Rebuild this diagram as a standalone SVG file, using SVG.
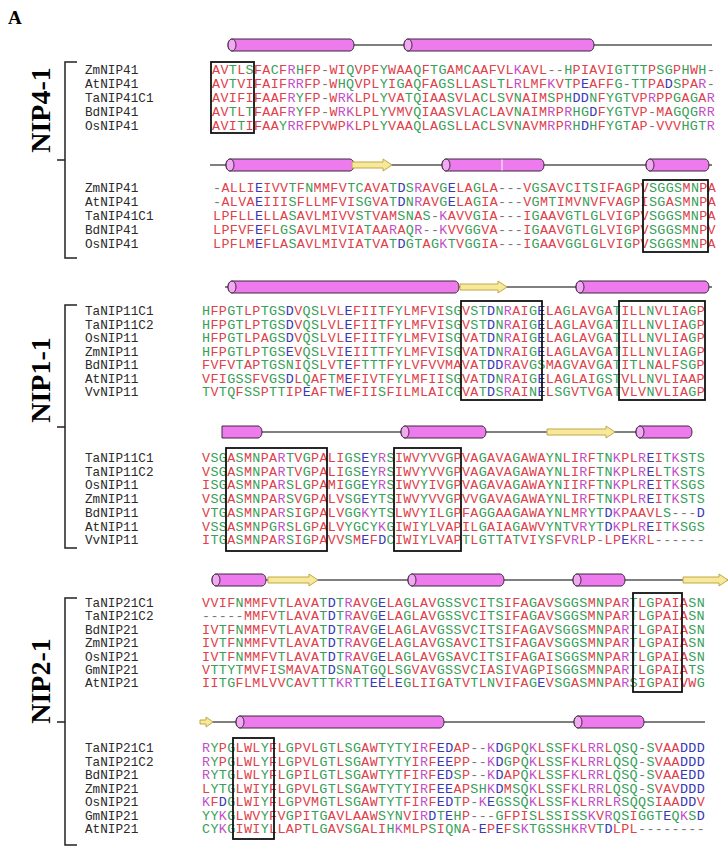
<svg xmlns="http://www.w3.org/2000/svg" width="728" height="860" viewBox="0 0 728 860">
<style>
.nm{font-family:"Liberation Mono",monospace;font-size:12.7px;fill:#2a2a2a}
.sq{font-family:"Liberation Mono",monospace;font-size:13.4px;letter-spacing:0.34px;fill:#e0404a}
.g{fill:#36a058}.b{fill:#3838b8}.m{fill:#c24fc9}.k{fill:#777}
.box{fill:none;stroke:#111;stroke-width:1.8}
.br{fill:none;stroke:#222;stroke-width:1.5}
.lab{font-family:"Liberation Serif",serif;font-weight:bold;font-size:28px;fill:#000}
.ln{stroke:#555;stroke-width:1.3}
.hx{fill:#ee7bee;stroke:#3a2a3a;stroke-width:1}
.hc{fill:#f3a8f3;stroke:#3a2a3a;stroke-width:1}
.st{fill:#f6e99a;stroke:#c4a64a;stroke-width:1}
</style>
<rect width="728" height="860" fill="#fff"/>
<text x="8" y="24" font-family="Liberation Serif, serif" font-weight="bold" font-size="19">A</text>

<g id="track1">
<line class="ln" x1="228" y1="45" x2="712" y2="45"/>
<path class="hx" d="M232 39H350a4 6 0 0 1 0 12H232a4 6 0 0 1 0-12z"/><ellipse class="hc" cx="232" cy="45" rx="4" ry="6"/>
<path class="hx" d="M408 39H590a4 6 0 0 1 0 12H408a4 6 0 0 1 0-12z"/><ellipse class="hc" cx="408" cy="45" rx="4" ry="6"/>
</g>
<g id="track2">
<line class="ln" x1="210" y1="165" x2="712" y2="165"/>
<path class="hx" d="M230 159H350a4 6 0 0 1 0 12H230a4 6 0 0 1 0-12z"/><ellipse class="hc" cx="230" cy="165" rx="4" ry="6"/>
<path class="st" d="M352 162H383V159L392 165L383 171V168H352z"/>
<path class="hx" d="M446 159H540a4 6 0 0 1 0 12H446a4 6 0 0 1 0-12z"/><ellipse class="hc" cx="446" cy="165" rx="4" ry="6"/>
<line x1="502" y1="159.5" x2="502" y2="170.5" stroke="#fff" stroke-width="1"/>
<path class="hx" d="M650 159H705a4 6 0 0 1 0 12H650a4 6 0 0 1 0-12z"/><ellipse class="hc" cx="650" cy="165" rx="4" ry="6"/>
</g>
<g id="track3">
<line class="ln" x1="225" y1="287" x2="712" y2="287"/>
<path class="hx" d="M232 281H455a4 6 0 0 1 0 12H232a4 6 0 0 1 0-12z"/><ellipse class="hc" cx="232" cy="287" rx="4" ry="6"/>
<path class="st" d="M460 284H498V281L507 287L498 293V290H460z"/>
<path class="hx" d="M580 281H705a4 6 0 0 1 0 12H580a4 6 0 0 1 0-12z"/><ellipse class="hc" cx="580" cy="287" rx="4" ry="6"/>
</g>
<g id="track4">
<line class="ln" x1="222" y1="432" x2="692" y2="432"/>
<path class="hx" d="M222 426H258a4 6 0 0 1 0 12H222z"/>
<path class="hx" d="M405 426H482a4 6 0 0 1 0 12H405a4 6 0 0 1 0-12z"/><ellipse class="hc" cx="405" cy="432" rx="4" ry="6"/>
<path class="st" d="M547 429H606V426L615 432L606 438V435H547z"/>
<path class="hx" d="M640 426H688a4 6 0 0 1 0 12H640a4 6 0 0 1 0-12z"/><ellipse class="hc" cx="640" cy="432" rx="4" ry="6"/>
</g>
<g id="track5">
<line class="ln" x1="212" y1="580" x2="728" y2="580"/>
<path class="hx" d="M216 574H262a4 6 0 0 1 0 12H216a4 6 0 0 1 0-12z"/><ellipse class="hc" cx="216" cy="580" rx="4" ry="6"/>
<path class="st" d="M268 577H309V574L318 580L309 586V583H268z"/>
<path class="hx" d="M412 574H500a4 6 0 0 1 0 12H412a4 6 0 0 1 0-12z"/><ellipse class="hc" cx="412" cy="580" rx="4" ry="6"/>
<path class="hx" d="M577 574H621a4 6 0 0 1 0 12H577a4 6 0 0 1 0-12z"/><ellipse class="hc" cx="577" cy="580" rx="4" ry="6"/>
<path class="st" d="M683 577H719V574L728 580L719 586V583H683z"/>
</g>
<g id="track6">
<line class="ln" x1="205" y1="722" x2="705" y2="722"/>
<path class="st" d="M200 720H206V717L213 722L206 727V724H200z"/>
<path class="hx" d="M240 716H440a4 6 0 0 1 0 12H240a4 6 0 0 1 0-12z"/><ellipse class="hc" cx="240" cy="722" rx="4" ry="6"/>
<path class="hx" d="M578 716H640a4 6 0 0 1 0 12H578a4 6 0 0 1 0-12z"/><ellipse class="hc" cx="578" cy="722" rx="4" ry="6"/>
</g>

<g id="NIP4-1">
<path class="br" d="M77 62H65V258H77M65 160H57"/>
<text class="lab" transform="translate(50 110) rotate(-90)" text-anchor="middle">NIP4-1</text>
<text class="nm" x="85" y="74">ZmNIP41</text>
<text class="nm" x="85" y="88">AtNIP41</text>
<text class="nm" x="85" y="102">TaNIP41C1</text>
<text class="nm" x="85" y="116">BdNIP41</text>
<text class="nm" x="85" y="130">OsNIP41</text>
<text class="sq" x="212" y="74">AV<tspan class="g">T</tspan>L<tspan class="g">S</tspan>FA<tspan class="g">C</tspan>F<tspan class="m">R</tspan><tspan class="g">H</tspan>FP<tspan class="k">-</tspan>WI<tspan class="g">Q</tspan>VPF<tspan class="g">Y</tspan>WAA<tspan class="g">Q</tspan>F<tspan class="g">TG</tspan>AM<tspan class="g">C</tspan>AAFVL<tspan class="m">K</tspan>AVL<tspan class="k">--</tspan><tspan class="g">H</tspan>PIAVI<tspan class="g">GTTT</tspan>P<tspan class="g">SG</tspan>P<tspan class="g">H</tspan>W<tspan class="g">H</tspan><tspan class="k">-</tspan></text>
<text class="sq" x="212" y="88">AV<tspan class="g">T</tspan>VIFAIF<tspan class="m">RR</tspan>FP<tspan class="k">-</tspan>W<tspan class="g">HQ</tspan>VPL<tspan class="g">Y</tspan>I<tspan class="g">G</tspan>A<tspan class="g">Q</tspan>FA<tspan class="g">GS</tspan>LLA<tspan class="g">S</tspan>L<tspan class="g">T</tspan>L<tspan class="m">R</tspan>LMF<tspan class="m">K</tspan>V<tspan class="g">T</tspan>P<tspan class="b">E</tspan>AFF<tspan class="g">G</tspan><tspan class="k">-</tspan><tspan class="g">TT</tspan>PA<tspan class="b">D</tspan><tspan class="g">S</tspan>PA<tspan class="m">R</tspan><tspan class="k">-</tspan></text>
<text class="sq" x="212" y="102">AVIFIFAAF<tspan class="m">R</tspan><tspan class="g">Y</tspan>FP<tspan class="k">-</tspan>W<tspan class="m">RK</tspan>LPL<tspan class="g">Y</tspan>VA<tspan class="g">TQ</tspan>IAA<tspan class="g">S</tspan>VLA<tspan class="g">C</tspan>L<tspan class="g">S</tspan>V<tspan class="g">N</tspan>AIM<tspan class="g">S</tspan>P<tspan class="g">H</tspan><tspan class="b">DD</tspan><tspan class="g">N</tspan>F<tspan class="g">YGT</tspan>VP<tspan class="m">R</tspan>PP<tspan class="g">G</tspan>A<tspan class="g">G</tspan>A<tspan class="m">R</tspan></text>
<text class="sq" x="212" y="116">AV<tspan class="g">T</tspan>L<tspan class="g">T</tspan>FAAF<tspan class="m">R</tspan><tspan class="g">Y</tspan>FP<tspan class="k">-</tspan>W<tspan class="m">RK</tspan>LPL<tspan class="g">Y</tspan>VMV<tspan class="g">Q</tspan>IAA<tspan class="g">S</tspan>VLA<tspan class="g">C</tspan>LAV<tspan class="g">N</tspan>AIM<tspan class="m">R</tspan>P<tspan class="m">R</tspan><tspan class="g">HG</tspan><tspan class="b">D</tspan>F<tspan class="g">YGT</tspan>VP<tspan class="k">-</tspan>MA<tspan class="g">GQG</tspan><tspan class="m">RR</tspan></text>
<text class="sq" x="212" y="130">AVI<tspan class="g">T</tspan>IFAA<tspan class="g">Y</tspan><tspan class="m">RR</tspan>FPVWP<tspan class="m">K</tspan>LPL<tspan class="g">Y</tspan>VAA<tspan class="g">Q</tspan>LA<tspan class="g">GS</tspan>LLA<tspan class="g">C</tspan>L<tspan class="g">S</tspan>V<tspan class="g">N</tspan>AVM<tspan class="m">R</tspan>P<tspan class="m">R</tspan><tspan class="g">H</tspan><tspan class="b">D</tspan><tspan class="g">H</tspan>F<tspan class="g">YGT</tspan>AP<tspan class="k">-</tspan>VVV<tspan class="g">HGT</tspan><tspan class="m">R</tspan></text>
<text class="nm" x="85" y="192">ZmNIP41</text>
<text class="nm" x="85" y="206">AtNIP41</text>
<text class="nm" x="85" y="220">TaNIP41C1</text>
<text class="nm" x="85" y="234">BdNIP41</text>
<text class="nm" x="85" y="248">OsNIP41</text>
<text class="sq" x="213" y="192"><tspan class="k">-</tspan>ALLI<tspan class="b">E</tspan>IVV<tspan class="g">T</tspan>F<tspan class="g">N</tspan>MMFV<tspan class="g">TC</tspan>AVA<tspan class="g">T</tspan><tspan class="b">D</tspan><tspan class="g">S</tspan><tspan class="m">R</tspan>AV<tspan class="g">G</tspan><tspan class="b">E</tspan>LA<tspan class="g">G</tspan>LA<tspan class="k">---</tspan>V<tspan class="g">GS</tspan>AV<tspan class="g">C</tspan>I<tspan class="g">TS</tspan>IFA<tspan class="g">G</tspan>PV<tspan class="g">SGGS</tspan>M<tspan class="g">N</tspan>PA</text>
<text class="sq" x="213" y="206"><tspan class="k">-</tspan>ALVA<tspan class="b">E</tspan>III<tspan class="g">S</tspan>FLLMFVI<tspan class="g">SG</tspan>VA<tspan class="g">T</tspan><tspan class="b">D</tspan><tspan class="g">N</tspan><tspan class="m">R</tspan>AV<tspan class="g">G</tspan><tspan class="b">E</tspan>LA<tspan class="g">G</tspan>IA<tspan class="k">---</tspan>V<tspan class="g">G</tspan>M<tspan class="g">T</tspan>IMV<tspan class="g">N</tspan>VFVA<tspan class="g">G</tspan>PI<tspan class="g">SG</tspan>A<tspan class="g">S</tspan>M<tspan class="g">N</tspan>PA</text>
<text class="sq" x="213" y="220">LPFLL<tspan class="b">E</tspan>LLA<tspan class="g">S</tspan>AVLMIVV<tspan class="g">ST</tspan>VAM<tspan class="g">SN</tspan>A<tspan class="g">S</tspan><tspan class="k">-</tspan><tspan class="m">K</tspan>AVV<tspan class="g">G</tspan>IA<tspan class="k">---</tspan>I<tspan class="g">G</tspan>AAV<tspan class="g">GT</tspan>L<tspan class="g">G</tspan>LVI<tspan class="g">G</tspan>PV<tspan class="g">SGGS</tspan>M<tspan class="g">N</tspan>PA</text>
<text class="sq" x="213" y="234">LPFVF<tspan class="b">E</tspan>FL<tspan class="g">GS</tspan>AVLMIVIA<tspan class="g">T</tspan>AA<tspan class="m">R</tspan>A<tspan class="g">Q</tspan><tspan class="m">R</tspan><tspan class="k">--</tspan><tspan class="m">K</tspan>VV<tspan class="g">GG</tspan>VA<tspan class="k">---</tspan>I<tspan class="g">G</tspan>AAV<tspan class="g">GT</tspan>L<tspan class="g">G</tspan>LVI<tspan class="g">G</tspan>PV<tspan class="g">SGGS</tspan>M<tspan class="g">N</tspan>PV</text>
<text class="sq" x="213" y="248">LPFLM<tspan class="b">E</tspan>FLA<tspan class="g">S</tspan>AVLMIVIA<tspan class="g">T</tspan>VA<tspan class="g">T</tspan><tspan class="b">D</tspan><tspan class="g">GT</tspan>A<tspan class="g">G</tspan><tspan class="m">K</tspan><tspan class="g">T</tspan>V<tspan class="g">GG</tspan>IA<tspan class="k">---</tspan>I<tspan class="g">G</tspan>AAV<tspan class="g">GG</tspan>L<tspan class="g">G</tspan>LVI<tspan class="g">G</tspan>PV<tspan class="g">SGGS</tspan>M<tspan class="g">N</tspan>PA</text>
<rect class="box" x="211" y="62" width="43" height="71"/>
<rect class="box" x="643" y="180" width="65" height="72"/>
</g>

<g id="NIP1-1">
<path class="br" d="M77 305H65V548H77M65 427H57"/>
<text class="lab" transform="translate(50 380) rotate(-90)" text-anchor="middle">NIP1-1</text>
<text class="nm" x="85" y="315">TaNIP11C1</text>
<text class="nm" x="85" y="328.5">TaNIP11C2</text>
<text class="nm" x="85" y="342">OsNIP11</text>
<text class="nm" x="85" y="355.5">ZmNIP11</text>
<text class="nm" x="85" y="369">BdNIP11</text>
<text class="nm" x="85" y="382.5">AtNIP11</text>
<text class="nm" x="85" y="396">VvNIP11</text>
<text class="sq" x="202" y="315"><tspan class="g">H</tspan>FP<tspan class="g">GT</tspan>LP<tspan class="g">TGS</tspan><tspan class="b">D</tspan>V<tspan class="g">QS</tspan>LVL<tspan class="b">E</tspan>FII<tspan class="g">T</tspan>F<tspan class="g">Y</tspan>LMFVI<tspan class="g">SG</tspan>V<tspan class="g">ST</tspan><tspan class="b">D</tspan><tspan class="g">N</tspan><tspan class="m">R</tspan>AI<tspan class="g">G</tspan><tspan class="b">E</tspan>LA<tspan class="g">G</tspan>LAV<tspan class="g">G</tspan>A<tspan class="g">T</tspan>ILL<tspan class="g">N</tspan>VLIA<tspan class="g">G</tspan>P</text>
<text class="sq" x="202" y="328.5"><tspan class="g">H</tspan>FP<tspan class="g">GT</tspan>LP<tspan class="g">TGS</tspan><tspan class="b">D</tspan>V<tspan class="g">QS</tspan>LVL<tspan class="b">E</tspan>FII<tspan class="g">T</tspan>F<tspan class="g">Y</tspan>LMFVI<tspan class="g">SG</tspan>V<tspan class="g">ST</tspan><tspan class="b">D</tspan><tspan class="g">N</tspan><tspan class="m">R</tspan>AI<tspan class="g">G</tspan><tspan class="b">E</tspan>LA<tspan class="g">G</tspan>LAV<tspan class="g">G</tspan>A<tspan class="g">T</tspan>ILL<tspan class="g">N</tspan>VLIA<tspan class="g">G</tspan>P</text>
<text class="sq" x="202" y="342"><tspan class="g">H</tspan>FP<tspan class="g">GT</tspan>LPA<tspan class="g">GS</tspan><tspan class="b">D</tspan>V<tspan class="g">QS</tspan>LVL<tspan class="b">E</tspan>FII<tspan class="g">T</tspan>F<tspan class="g">Y</tspan>LMFVI<tspan class="g">SG</tspan>VA<tspan class="g">T</tspan><tspan class="b">D</tspan><tspan class="g">N</tspan><tspan class="m">R</tspan>AI<tspan class="g">G</tspan><tspan class="b">E</tspan>LA<tspan class="g">G</tspan>LAV<tspan class="g">G</tspan>A<tspan class="g">T</tspan>ILL<tspan class="g">N</tspan>VLIA<tspan class="g">G</tspan>P</text>
<text class="sq" x="202" y="355.5"><tspan class="g">H</tspan>FP<tspan class="g">GT</tspan>LP<tspan class="g">TGS</tspan><tspan class="b">E</tspan>V<tspan class="g">QS</tspan>LVI<tspan class="b">E</tspan>II<tspan class="g">TT</tspan>F<tspan class="g">Y</tspan>LMFVI<tspan class="g">SG</tspan>VA<tspan class="g">T</tspan><tspan class="b">D</tspan><tspan class="g">N</tspan><tspan class="m">R</tspan>AI<tspan class="g">G</tspan><tspan class="b">E</tspan>LA<tspan class="g">G</tspan>LAV<tspan class="g">G</tspan>A<tspan class="g">T</tspan>ILL<tspan class="g">N</tspan>VLIA<tspan class="g">G</tspan>P</text>
<text class="sq" x="202" y="369">FVFV<tspan class="g">T</tspan>AP<tspan class="g">TGSN</tspan>I<tspan class="g">QS</tspan>LV<tspan class="g">T</tspan><tspan class="b">E</tspan>F<tspan class="g">TTT</tspan>F<tspan class="g">Y</tspan>LVFVVMAVA<tspan class="g">T</tspan><tspan class="b">DD</tspan><tspan class="m">R</tspan>AV<tspan class="g">GS</tspan>MA<tspan class="g">G</tspan>VAV<tspan class="g">G</tspan>A<tspan class="g">T</tspan>I<tspan class="g">T</tspan>L<tspan class="g">N</tspan>ALF<tspan class="g">SG</tspan>P</text>
<text class="sq" x="202" y="382.5">VFI<tspan class="g">GSS</tspan>FV<tspan class="g">GS</tspan><tspan class="b">D</tspan>L<tspan class="g">Q</tspan>AF<tspan class="g">T</tspan>M<tspan class="b">E</tspan>FIV<tspan class="g">T</tspan>F<tspan class="g">Y</tspan>LMFII<tspan class="g">SG</tspan>VA<tspan class="g">T</tspan><tspan class="b">D</tspan><tspan class="g">N</tspan><tspan class="m">R</tspan>AI<tspan class="g">G</tspan><tspan class="b">E</tspan>LA<tspan class="g">G</tspan>LAI<tspan class="g">GST</tspan>VLL<tspan class="g">N</tspan>VLIAAP</text>
<text class="sq" x="202" y="396"><tspan class="g">T</tspan>V<tspan class="g">TQ</tspan>F<tspan class="g">SS</tspan>P<tspan class="g">TT</tspan>IP<tspan class="b">E</tspan>AF<tspan class="g">T</tspan>W<tspan class="b">E</tspan>FII<tspan class="g">S</tspan>FILMLAI<tspan class="g">CG</tspan>VA<tspan class="g">T</tspan><tspan class="b">D</tspan><tspan class="g">S</tspan><tspan class="m">R</tspan>AI<tspan class="g">N</tspan><tspan class="b">E</tspan>L<tspan class="g">SG</tspan>V<tspan class="g">T</tspan>V<tspan class="g">G</tspan>A<tspan class="g">T</tspan>VLV<tspan class="g">N</tspan>VLIA<tspan class="g">G</tspan>P</text>
<rect class="box" x="461" y="301" width="81" height="99"/>
<rect class="box" x="619" y="301" width="86" height="99"/>
<text class="nm" x="85" y="462">TaNIP11C1</text>
<text class="nm" x="85" y="475.7">TaNIP11C2</text>
<text class="nm" x="85" y="489.4">OsNIP11</text>
<text class="nm" x="85" y="503.1">ZmNIP11</text>
<text class="nm" x="85" y="516.8">BdNIP11</text>
<text class="nm" x="85" y="530.5">AtNIP11</text>
<text class="nm" x="85" y="544.2">VvNIP11</text>
<text class="sq" x="202" y="462">V<tspan class="g">SG</tspan>A<tspan class="g">S</tspan>M<tspan class="g">N</tspan>PA<tspan class="m">R</tspan><tspan class="g">T</tspan>V<tspan class="g">G</tspan>PALI<tspan class="g">GS</tspan><tspan class="b">E</tspan><tspan class="g">Y</tspan><tspan class="m">R</tspan><tspan class="g">S</tspan>IWV<tspan class="g">Y</tspan>VV<tspan class="g">G</tspan>PVA<tspan class="g">G</tspan>AVA<tspan class="g">G</tspan>AWA<tspan class="g">YN</tspan>LI<tspan class="m">R</tspan>F<tspan class="g">TN</tspan><tspan class="m">K</tspan>PL<tspan class="m">R</tspan><tspan class="b">E</tspan>I<tspan class="g">T</tspan><tspan class="m">K</tspan><tspan class="g">STS</tspan></text>
<text class="sq" x="202" y="475.7">V<tspan class="g">SG</tspan>A<tspan class="g">S</tspan>M<tspan class="g">N</tspan>PA<tspan class="m">R</tspan><tspan class="g">T</tspan>V<tspan class="g">G</tspan>PALI<tspan class="g">GS</tspan><tspan class="b">E</tspan><tspan class="g">Y</tspan><tspan class="m">R</tspan><tspan class="g">S</tspan>IWV<tspan class="g">Y</tspan>VV<tspan class="g">G</tspan>PVA<tspan class="g">G</tspan>AVA<tspan class="g">G</tspan>AWA<tspan class="g">YN</tspan>LI<tspan class="m">R</tspan>F<tspan class="g">TN</tspan><tspan class="m">K</tspan>PL<tspan class="m">R</tspan><tspan class="b">E</tspan>L<tspan class="g">T</tspan><tspan class="m">K</tspan><tspan class="g">STS</tspan></text>
<text class="sq" x="202" y="489.4">I<tspan class="g">SG</tspan>A<tspan class="g">S</tspan>M<tspan class="g">N</tspan>PA<tspan class="m">R</tspan><tspan class="g">S</tspan>L<tspan class="g">G</tspan>PAMI<tspan class="g">GG</tspan><tspan class="b">E</tspan><tspan class="g">Y</tspan><tspan class="m">R</tspan><tspan class="g">S</tspan>IWV<tspan class="g">Y</tspan>IV<tspan class="g">G</tspan>PVA<tspan class="g">G</tspan>AVA<tspan class="g">G</tspan>AWA<tspan class="g">YN</tspan>II<tspan class="m">R</tspan>F<tspan class="g">TN</tspan><tspan class="m">K</tspan>PL<tspan class="m">R</tspan><tspan class="b">E</tspan>I<tspan class="g">T</tspan><tspan class="m">K</tspan><tspan class="g">SGS</tspan></text>
<text class="sq" x="202" y="503.1">V<tspan class="g">SG</tspan>A<tspan class="g">S</tspan>M<tspan class="g">N</tspan>PA<tspan class="m">R</tspan><tspan class="g">S</tspan>V<tspan class="g">G</tspan>PALV<tspan class="g">SG</tspan><tspan class="b">E</tspan><tspan class="g">YTS</tspan>IWV<tspan class="g">Y</tspan>VV<tspan class="g">G</tspan>PVV<tspan class="g">G</tspan>AVA<tspan class="g">G</tspan>AWA<tspan class="g">YN</tspan>LI<tspan class="m">R</tspan>F<tspan class="g">TN</tspan><tspan class="m">K</tspan>PL<tspan class="m">R</tspan><tspan class="b">E</tspan>I<tspan class="g">T</tspan><tspan class="m">K</tspan><tspan class="g">STS</tspan></text>
<text class="sq" x="202" y="516.8">V<tspan class="g">TG</tspan>A<tspan class="g">S</tspan>M<tspan class="g">N</tspan>PA<tspan class="m">R</tspan><tspan class="g">S</tspan>I<tspan class="g">G</tspan>PALV<tspan class="g">GG</tspan><tspan class="m">K</tspan><tspan class="g">YTS</tspan>LWV<tspan class="g">Y</tspan>IL<tspan class="g">G</tspan>PFA<tspan class="g">GG</tspan>AA<tspan class="g">G</tspan>AWA<tspan class="g">YN</tspan>LM<tspan class="m">R</tspan><tspan class="g">YT</tspan><tspan class="b">D</tspan><tspan class="m">K</tspan>PAAVL<tspan class="g">S</tspan><tspan class="k">---</tspan><tspan class="b">D</tspan></text>
<text class="sq" x="202" y="530.5">V<tspan class="g">SS</tspan>A<tspan class="g">S</tspan>M<tspan class="g">N</tspan>P<tspan class="g">G</tspan><tspan class="m">R</tspan><tspan class="g">S</tspan>L<tspan class="g">G</tspan>PALV<tspan class="g">YGCY</tspan><tspan class="m">K</tspan><tspan class="g">G</tspan>IWI<tspan class="g">Y</tspan>LVAPIL<tspan class="g">G</tspan>AIA<tspan class="g">G</tspan>AWV<tspan class="g">YNT</tspan>V<tspan class="m">R</tspan><tspan class="g">YT</tspan><tspan class="b">D</tspan><tspan class="m">K</tspan>PL<tspan class="m">R</tspan><tspan class="b">E</tspan>I<tspan class="g">T</tspan><tspan class="m">K</tspan><tspan class="g">SGS</tspan></text>
<text class="sq" x="202" y="544.2">I<tspan class="g">TG</tspan>A<tspan class="g">S</tspan>M<tspan class="g">N</tspan>PA<tspan class="m">R</tspan><tspan class="g">S</tspan>I<tspan class="g">G</tspan>PAVV<tspan class="g">S</tspan>M<tspan class="b">E</tspan>F<tspan class="b">D</tspan><tspan class="g">C</tspan>IWI<tspan class="g">Y</tspan>LVAP<tspan class="g">T</tspan>L<tspan class="g">GTT</tspan>A<tspan class="g">T</tspan>VI<tspan class="g">YS</tspan>FV<tspan class="m">R</tspan>LP<tspan class="k">-</tspan>LP<tspan class="b">E</tspan><tspan class="m">KR</tspan>L<tspan class="k">------</tspan></text>
<rect class="box" x="226" y="448" width="101" height="103"/>
<rect class="box" x="394" y="448" width="67" height="103"/>
</g>

<g id="NIP2-1">
<path class="br" d="M77 598H65V845H77M65 722H57"/>
<text class="lab" transform="translate(50 681) rotate(-90)" text-anchor="middle">NIP2-1</text>
<text class="nm" x="85" y="607">TaNIP21C1</text>
<text class="nm" x="85" y="620.4">TaNIP21C2</text>
<text class="nm" x="85" y="633.8">BdNIP21</text>
<text class="nm" x="85" y="647.2">ZmNIP21</text>
<text class="nm" x="85" y="660.6">OsNIP21</text>
<text class="nm" x="85" y="674">GmNIP21</text>
<text class="nm" x="85" y="687.4">AtNIP21</text>
<text class="sq" x="202" y="607">VVIF<tspan class="g">N</tspan>MMFV<tspan class="g">T</tspan>LAVA<tspan class="g">T</tspan><tspan class="b">D</tspan><tspan class="g">T</tspan><tspan class="m">R</tspan>AV<tspan class="g">G</tspan><tspan class="b">E</tspan>LA<tspan class="g">G</tspan>LAV<tspan class="g">GSS</tspan>V<tspan class="g">C</tspan>I<tspan class="g">TS</tspan>IFA<tspan class="g">G</tspan>AV<tspan class="g">SGGS</tspan>M<tspan class="g">N</tspan>PA<tspan class="m">R</tspan><tspan class="g">T</tspan>L<tspan class="g">G</tspan>PAIA<tspan class="g">SN</tspan></text>
<text class="sq" x="202" y="620.4"><tspan class="k">-----</tspan>MMFV<tspan class="g">T</tspan>LAVA<tspan class="g">T</tspan><tspan class="b">D</tspan><tspan class="g">T</tspan><tspan class="m">R</tspan>AV<tspan class="g">G</tspan><tspan class="b">E</tspan>LA<tspan class="g">G</tspan>LAV<tspan class="g">GSS</tspan>V<tspan class="g">C</tspan>I<tspan class="g">TS</tspan>IFA<tspan class="g">G</tspan>AV<tspan class="g">SGGS</tspan>M<tspan class="g">N</tspan>PA<tspan class="m">R</tspan><tspan class="g">T</tspan>L<tspan class="g">G</tspan>PAIA<tspan class="g">SN</tspan></text>
<text class="sq" x="202" y="633.8">IV<tspan class="g">T</tspan>F<tspan class="g">N</tspan>MMFV<tspan class="g">T</tspan>LAVA<tspan class="g">T</tspan><tspan class="b">D</tspan><tspan class="g">T</tspan><tspan class="m">R</tspan>AV<tspan class="g">G</tspan><tspan class="b">E</tspan>LA<tspan class="g">G</tspan>LAV<tspan class="g">GSS</tspan>V<tspan class="g">C</tspan>I<tspan class="g">TS</tspan>IFA<tspan class="g">G</tspan>AV<tspan class="g">SGGS</tspan>M<tspan class="g">N</tspan>PA<tspan class="m">R</tspan><tspan class="g">T</tspan>L<tspan class="g">G</tspan>PAIA<tspan class="g">SN</tspan></text>
<text class="sq" x="202" y="647.2">IV<tspan class="g">T</tspan>F<tspan class="g">N</tspan>MMFV<tspan class="g">T</tspan>LAVA<tspan class="g">T</tspan><tspan class="b">D</tspan><tspan class="g">T</tspan><tspan class="m">R</tspan>AV<tspan class="g">G</tspan><tspan class="b">E</tspan>LA<tspan class="g">G</tspan>LAV<tspan class="g">GS</tspan>AV<tspan class="g">C</tspan>I<tspan class="g">TS</tspan>IFA<tspan class="g">G</tspan>AV<tspan class="g">SGGS</tspan>M<tspan class="g">N</tspan>PA<tspan class="m">R</tspan><tspan class="g">T</tspan>L<tspan class="g">G</tspan>PAIA<tspan class="g">SN</tspan></text>
<text class="sq" x="202" y="660.6">IV<tspan class="g">T</tspan>F<tspan class="g">N</tspan>MMFV<tspan class="g">T</tspan>LAVA<tspan class="g">T</tspan><tspan class="b">D</tspan><tspan class="g">T</tspan><tspan class="m">R</tspan>AV<tspan class="g">G</tspan><tspan class="b">E</tspan>LA<tspan class="g">G</tspan>LAV<tspan class="g">GS</tspan>AV<tspan class="g">C</tspan>I<tspan class="g">TS</tspan>IFA<tspan class="g">G</tspan>AI<tspan class="g">SGGS</tspan>M<tspan class="g">N</tspan>PA<tspan class="m">R</tspan><tspan class="g">T</tspan>L<tspan class="g">G</tspan>PAIA<tspan class="g">SN</tspan></text>
<text class="sq" x="202" y="674">V<tspan class="g">TTYT</tspan>MVFI<tspan class="g">S</tspan>MAVA<tspan class="g">T</tspan><tspan class="b">D</tspan><tspan class="g">SN</tspan>A<tspan class="g">TGQ</tspan>L<tspan class="g">SG</tspan>VAV<tspan class="g">GSS</tspan>V<tspan class="g">C</tspan>IA<tspan class="g">S</tspan>IVA<tspan class="g">G</tspan>PI<tspan class="g">SGGS</tspan>M<tspan class="g">N</tspan>PA<tspan class="m">R</tspan><tspan class="g">T</tspan>L<tspan class="g">G</tspan>PAIA<tspan class="g">TS</tspan></text>
<text class="sq" x="202" y="687.4">II<tspan class="g">TG</tspan>FLMLVV<tspan class="g">C</tspan>AV<tspan class="g">TTT</tspan><tspan class="m">KR</tspan><tspan class="g">TT</tspan><tspan class="b">EE</tspan>L<tspan class="b">E</tspan><tspan class="g">G</tspan>LII<tspan class="g">G</tspan>A<tspan class="g">T</tspan>V<tspan class="g">T</tspan>L<tspan class="g">N</tspan>VIFA<tspan class="g">G</tspan><tspan class="b">E</tspan>V<tspan class="g">SG</tspan>A<tspan class="g">S</tspan>M<tspan class="g">N</tspan>PA<tspan class="m">R</tspan><tspan class="g">S</tspan>I<tspan class="g">G</tspan>PAIVW<tspan class="g">G</tspan></text>
<rect class="box" x="633" y="593" width="49" height="99"/>
<text class="nm" x="85" y="752">TaNIP21C1</text>
<text class="nm" x="85" y="765.5">TaNIP21C2</text>
<text class="nm" x="85" y="779">BdNIP21</text>
<text class="nm" x="85" y="792.5">ZmNIP21</text>
<text class="nm" x="85" y="806">OsNIP21</text>
<text class="nm" x="85" y="819.5">GmNIP21</text>
<text class="nm" x="85" y="833">AtNIP21</text>
<text class="sq" x="202" y="752"><tspan class="m">R</tspan><tspan class="g">Y</tspan>P<tspan class="g">G</tspan>LWL<tspan class="g">Y</tspan>FL<tspan class="g">G</tspan>PVL<tspan class="g">GT</tspan>L<tspan class="g">SG</tspan>AW<tspan class="g">TYTY</tspan>I<tspan class="m">R</tspan>F<tspan class="b">ED</tspan>AP<tspan class="k">--</tspan><tspan class="m">K</tspan><tspan class="b">D</tspan><tspan class="g">G</tspan>P<tspan class="g">Q</tspan><tspan class="m">K</tspan>L<tspan class="g">SS</tspan>F<tspan class="m">K</tspan>L<tspan class="m">RR</tspan>L<tspan class="g">QSQ</tspan><tspan class="k">-</tspan><tspan class="g">S</tspan>VAA<tspan class="b">DDD</tspan></text>
<text class="sq" x="202" y="765.5"><tspan class="m">R</tspan><tspan class="g">Y</tspan>P<tspan class="g">G</tspan>LWL<tspan class="g">Y</tspan>FL<tspan class="g">G</tspan>PVL<tspan class="g">GT</tspan>L<tspan class="g">SG</tspan>AW<tspan class="g">TYTY</tspan>I<tspan class="m">R</tspan>F<tspan class="b">EE</tspan>PP<tspan class="k">--</tspan><tspan class="m">K</tspan><tspan class="b">D</tspan><tspan class="g">G</tspan>P<tspan class="g">Q</tspan><tspan class="m">K</tspan>L<tspan class="g">SS</tspan>F<tspan class="m">K</tspan>L<tspan class="m">RR</tspan>L<tspan class="g">QSQ</tspan><tspan class="k">-</tspan><tspan class="g">S</tspan>VAA<tspan class="b">DDD</tspan></text>
<text class="sq" x="202" y="779"><tspan class="m">R</tspan><tspan class="g">YTG</tspan>LWL<tspan class="g">Y</tspan>FL<tspan class="g">G</tspan>PIL<tspan class="g">GT</tspan>L<tspan class="g">SG</tspan>AW<tspan class="g">TYT</tspan>FI<tspan class="m">R</tspan>F<tspan class="b">ED</tspan><tspan class="g">S</tspan>P<tspan class="k">--</tspan><tspan class="m">K</tspan><tspan class="b">D</tspan>AP<tspan class="g">Q</tspan><tspan class="m">K</tspan>L<tspan class="g">SS</tspan>F<tspan class="m">K</tspan>L<tspan class="m">RR</tspan>L<tspan class="g">QSQ</tspan><tspan class="k">-</tspan><tspan class="g">S</tspan>VAA<tspan class="b">EDD</tspan></text>
<text class="sq" x="202" y="792.5">L<tspan class="g">YTG</tspan>LWI<tspan class="g">Y</tspan>FL<tspan class="g">G</tspan>PVL<tspan class="g">GT</tspan>L<tspan class="g">SG</tspan>AW<tspan class="g">TYTY</tspan>I<tspan class="m">R</tspan>F<tspan class="b">EE</tspan>AP<tspan class="g">SH</tspan><tspan class="m">K</tspan><tspan class="b">D</tspan>M<tspan class="g">SQ</tspan><tspan class="m">K</tspan>L<tspan class="g">SS</tspan>F<tspan class="m">K</tspan>L<tspan class="m">RR</tspan>L<tspan class="g">QSQ</tspan><tspan class="k">-</tspan><tspan class="g">S</tspan>VAV<tspan class="b">DDD</tspan></text>
<text class="sq" x="202" y="806"><tspan class="m">K</tspan>F<tspan class="b">D</tspan><tspan class="g">G</tspan>LWI<tspan class="g">Y</tspan>FL<tspan class="g">G</tspan>PVM<tspan class="g">GT</tspan>L<tspan class="g">SG</tspan>AW<tspan class="g">TYT</tspan>FI<tspan class="m">R</tspan>F<tspan class="b">ED</tspan><tspan class="g">T</tspan>P<tspan class="k">-</tspan><tspan class="m">K</tspan><tspan class="b">E</tspan><tspan class="g">GSSQ</tspan><tspan class="m">K</tspan>L<tspan class="g">SS</tspan>F<tspan class="m">K</tspan>L<tspan class="m">RR</tspan>L<tspan class="m">R</tspan><tspan class="g">SQQS</tspan>IAA<tspan class="b">DD</tspan>V</text>
<text class="sq" x="202" y="819.5"><tspan class="g">YY</tspan><tspan class="m">K</tspan><tspan class="g">G</tspan>LWV<tspan class="g">Y</tspan>FV<tspan class="g">G</tspan>PI<tspan class="g">TG</tspan>AVLAAW<tspan class="g">SYN</tspan>VI<tspan class="m">R</tspan><tspan class="b">D</tspan><tspan class="g">T</tspan><tspan class="b">E</tspan><tspan class="g">H</tspan>P<tspan class="k">---</tspan><tspan class="g">G</tspan>FPI<tspan class="g">S</tspan>L<tspan class="g">SS</tspan>I<tspan class="g">SS</tspan><tspan class="m">K</tspan>V<tspan class="m">R</tspan><tspan class="g">QS</tspan>I<tspan class="g">GGT</tspan><tspan class="b">E</tspan><tspan class="g">Q</tspan><tspan class="m">K</tspan><tspan class="g">S</tspan><tspan class="b">D</tspan></text>
<text class="sq" x="202" y="833"><tspan class="g">CY</tspan><tspan class="m">K</tspan><tspan class="g">G</tspan>IWI<tspan class="g">Y</tspan>LLAP<tspan class="g">T</tspan>L<tspan class="g">G</tspan>AV<tspan class="g">SG</tspan>ALI<tspan class="g">H</tspan><tspan class="m">K</tspan>MLP<tspan class="g">S</tspan>I<tspan class="g">QN</tspan>A<tspan class="k">-</tspan><tspan class="b">E</tspan>P<tspan class="b">E</tspan>F<tspan class="g">S</tspan><tspan class="m">K</tspan><tspan class="g">TGSSH</tspan><tspan class="m">KR</tspan>V<tspan class="g">T</tspan><tspan class="b">D</tspan>LPL<tspan class="k">--------</tspan></text>
<rect class="box" x="233" y="738" width="41" height="101"/>
</g>
</svg>
